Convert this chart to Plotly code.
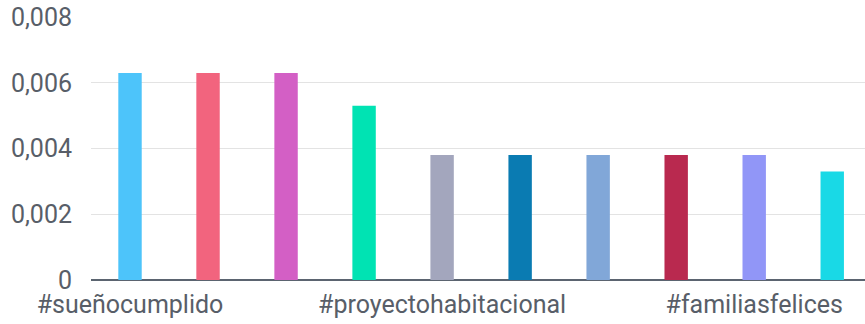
import plotly.graph_objects as go

# Hashtag share values (only every 4th label is shown on the axis)
positions = list(range(10))
labels = ["#sueñocumplido", "", "", "", "#proyectohabitacional", "", "", "", "#familiasfelices", ""]
values = [0.0063, 0.0063, 0.0063, 0.0053, 0.0038, 0.0038, 0.0038, 0.0038, 0.0038, 0.0033]
colors = ["#4dc4fa", "#f2647e", "#d35fc5", "#00e3b3", "#a3a6bd",
          "#0a7bb2", "#81a7d8", "#b9294f", "#9196f7", "#19d9e6"]
y_ticks = [0, 0.002, 0.004, 0.006, 0.008]
y_text = ["0", "0,002", "0,004", "0,006", "0,008"]

fig = go.Figure(go.Bar(
    x=positions,
    y=values,
    marker=dict(color=colors, line=dict(width=0)),
    width=0.3,
))

fig.update_layout(
    width=865,
    height=324,
    margin=dict(l=91, r=0, t=17, b=44),
    plot_bgcolor="white",
    paper_bgcolor="white",
    showlegend=False,
    font=dict(family="Roboto, Arial, sans-serif", size=25, color="#585e68"),
    xaxis=dict(
        range=[-0.5, 9.42],
        tickmode="array",
        tickvals=positions,
        ticktext=labels,
        showgrid=False,
        showline=False,
        ticks="",
        ticklabelstandoff=7,
        zeroline=False,
        automargin=False,
    ),
    yaxis=dict(
        range=[0, 0.008],
        tickmode="array",
        tickvals=y_ticks,
        ticktext=y_text,
        showgrid=True,
        gridcolor="#e3e3e3",
        gridwidth=1,
        zeroline=True,
        zerolinecolor="#5b6470",
        zerolinewidth=2,
        showline=False,
        ticks="",
        ticklabelstandoff=18,
        automargin=False,
    ),
)

# drop the browser's default 8px body margin so the figure sits at the corner
fig.write_html("out.html", config={"displayModeBar": False},
               post_script="document.body.style.margin = '0';")
